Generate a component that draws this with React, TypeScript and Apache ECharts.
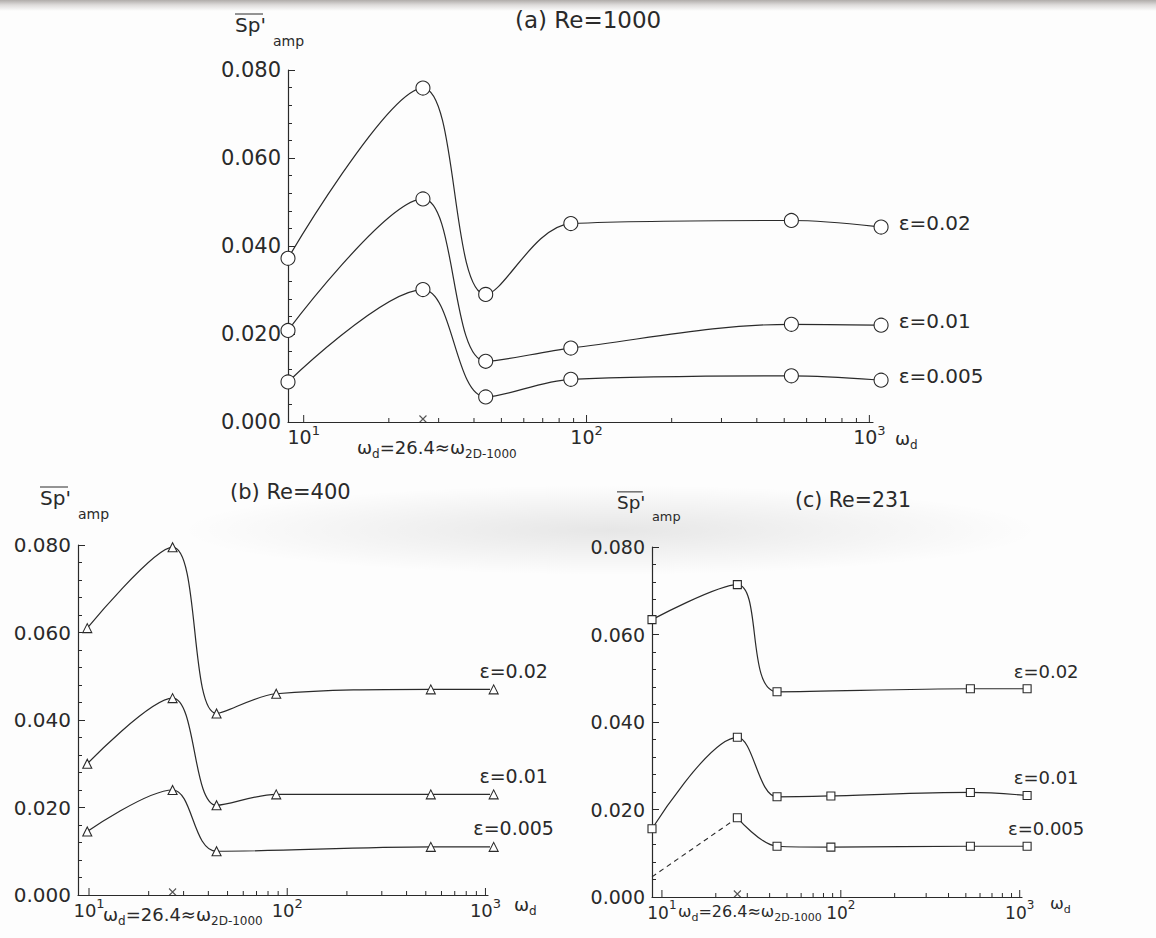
import React, { useEffect, useRef } from 'react';
import * as echarts from 'echarts';

// Forcing frequencies (ω_d) of the computed cases
const omegaA = [8.8, 26.4, 44, 88, 530, 1100];
const omegaB = [9.8, 26.4, 44, 88, 530, 1100];
const omegaC = [8.8, 26.4, 44, 88, 530, 1100];

// (a) Re=1000
const ampA_eps002 = [0.0372, 0.0759, 0.029, 0.0451, 0.0458, 0.0443];
const ampA_eps001 = [0.0208, 0.0507, 0.0138, 0.0168, 0.0222, 0.022];
const ampA_eps0005 = [0.0091, 0.0301, 0.0057, 0.0097, 0.0105, 0.0095];

// (b) Re=400
const ampB_eps002 = [0.061, 0.0795, 0.0415, 0.046, 0.047, 0.047];
const ampB_eps001 = [0.03, 0.045, 0.0205, 0.023, 0.023, 0.023];
const ampB_eps0005 = [0.0145, 0.024, 0.01, null, 0.011, 0.011];

// (c) Re=231
const ampC_eps002 = [0.0634, 0.0714, 0.0469, null, 0.0476, 0.0476];
const ampC_eps001 = [0.0156, 0.0365, 0.0229, 0.0231, 0.0239, 0.0232];
const ampC_eps0005 = [null, 0.0181, 0.0116, 0.0114, 0.0116, 0.0116];
// extrapolated branch of ε=0.005 towards low frequency (dashed)
const ampC_eps0005_extrapOmega = [8.8, 26.4];
const ampC_eps0005_extrapAmp = [0.0046, 0.0181];

const epsLabels = ['ε=0.02', 'ε=0.01', 'ε=0.005'];
const panelTitles = ['(a) Re=1000', '(b) Re=400', '(c) Re=231'];
const omega2D = 26.4;
const xMajorTicks = [10, 100, 1000];
const xMinorTicks = [20, 30, 40, 50, 60, 70, 80, 90, 200, 300, 400, 500, 600, 700, 800, 900];

const X_MIN = 8.8;
const X_MAX = 1030;
const Y_MAX = 0.08;
const Y_STEP = 0.02;

const INK = '#2a2a2a';
const FONT = '"DejaVu Sans", "Liberation Sans", sans-serif';

type Panel = {
  left: number;
  top: number;
  width: number;
  height: number;
  symbol: string;
  symbolSize: number;
  omega: number[];
  amps: (number | null)[][];
  label: any;
  fs: number; // font scale
};

const panels: Panel[] = [
  {
    left: 288, top: 70, width: 585, height: 352,
    symbol: 'circle', symbolSize: 14,
    omega: omegaA,
    amps: [ampA_eps002, ampA_eps001, ampA_eps0005],
    label: { position: 'right', distance: 10, offset: [0, -4] },
    fs: 1,
  },
  {
    left: 78, top: 545, width: 410, height: 350,
    symbol: 'triangle', symbolSize: 9,
    omega: omegaB,
    amps: [ampB_eps002, ampB_eps001, ampB_eps0005],
    label: { position: 'top', distance: 4, offset: [20, 0] },
    fs: 0.97,
  },
  {
    left: 652, top: 547, width: 370, height: 350,
    symbol: 'rect', symbolSize: 8,
    omega: omegaC,
    amps: [ampC_eps002, ampC_eps001, ampC_eps0005],
    label: { position: 'top', distance: 4, offset: [19, 0] },
    fs: 0.9,
  },
];

function pairs(xs: number[], ys: (number | null)[]) {
  const out: number[][] = [];
  xs.forEach((x, i) => {
    const y = ys[i];
    if (y !== null && y !== undefined) out.push([x, y]);
  });
  return out;
}

function curveSeries(gi: number, p: Panel, k: number) {
  const pts = pairs(p.omega, p.amps[k]);
  const data = pts.map((pt, i) =>
    i === pts.length - 1
      ? {
          value: pt,
          label: {
            show: true,
            formatter: epsLabels[k],
            fontSize: Math.round(20 * p.fs),
            fontFamily: FONT,
            color: INK,
            ...p.label,
          },
        }
      : { value: pt }
  );
  return {
    type: 'line',
    xAxisIndex: gi,
    yAxisIndex: gi,
    data,
    smooth: 0.35,
    symbol: p.symbol,
    symbolSize: p.symbolSize,
    showAllSymbol: true,
    clip: false,
    silent: true,
    lineStyle: { color: INK, width: 1.2 },
    itemStyle: { color: '#ffffff', borderColor: INK, borderWidth: 1.1 },
    emphasis: { disabled: true },
    z: 3,
  };
}

function tickSeries(gi: number) {
  const data = [
    ...xMajorTicks.map((v) => [v, 0, 7]),
    ...xMinorTicks.map((v) => [v, 0, 4]),
  ];
  return {
    type: 'custom',
    xAxisIndex: gi,
    yAxisIndex: gi,
    data,
    silent: true,
    clip: false,
    z: 4,
    renderItem: (_params: any, api: any) => {
      const c = api.coord([api.value(0), 0]);
      const len = api.value(2);
      return {
        type: 'line',
        shape: { x1: c[0], y1: c[1], x2: c[0], y2: c[1] - len },
        style: { stroke: INK, lineWidth: 1 },
      };
    },
  };
}

function crossMarkSeries(gi: number) {
  return {
    type: 'scatter',
    xAxisIndex: gi,
    yAxisIndex: gi,
    data: [[omega2D, 0]],
    symbol: 'path://M0,0L10,10M10,0L0,10',
    symbolSize: 7,
    symbolOffset: [0, -3],
    silent: true,
    clip: false,
    itemStyle: { color: 'transparent', borderColor: INK, borderWidth: 1.1 },
    z: 5,
  };
}

function txt(x: number, y: number, text: string, size: number, extra: any = {}) {
  return {
    type: 'text',
    x,
    y,
    silent: true,
    style: {
      text,
      fontSize: size,
      fontFamily: FONT,
      fill: INK,
      align: 'left',
      verticalAlign: 'middle',
      ...extra,
    },
  };
}

function subRich(fs: number) {
  const m = Math.round(18 * fs * 2) / 2;
  const s = Math.round(12 * fs * 2) / 2;
  return {
    m: { fontSize: m, fontFamily: FONT, color: INK, lineHeight: m + 4, verticalAlign: 'top' },
    s: { fontSize: s, fontFamily: FONT, color: INK, lineHeight: s, padding: [s, 0, 0, 0], verticalAlign: 'bottom' },
  };
}

function richTxt(x: number, y: number, text: string, fs: number) {
  return {
    type: 'text',
    x,
    y,
    silent: true,
    style: {
      text,
      rich: subRich(fs),
      fontFamily: FONT,
      fill: INK,
      align: 'left',
      verticalAlign: 'middle',
    },
  };
}

function ampLabel(x: number, y: number, fs: number) {
  // S p ' with an overbar, and the "amp" subscript
  return [
    txt(x, y, "Sp'", 20 * fs),
    {
      type: 'line',
      silent: true,
      shape: { x1: x, y1: y - 11 * fs, x2: x + 28 * fs, y2: y - 11 * fs },
      style: { stroke: INK, lineWidth: 1 },
    },
    txt(x + 38 * fs, y + 16 * fs, 'amp', 14 * fs),
  ];
}

const annotation = '{m|ω}{s|d}{m|=26.4≈ω}{s|2D-1000}';
const axisName = '{m|ω}{s|d}';

function buildOption() {
  const series: any[] = [];
  panels.forEach((p, gi) => {
    for (let k = 0; k < 3; k++) series.push(curveSeries(gi, p, k));
    series.push(tickSeries(gi));
    series.push(crossMarkSeries(gi));
  });
  series.push({
    type: 'line',
    xAxisIndex: 2,
    yAxisIndex: 2,
    data: pairs(ampC_eps0005_extrapOmega, ampC_eps0005_extrapAmp),
    symbol: 'none',
    silent: true,
    lineStyle: { color: INK, width: 1.1, type: [5, 4] },
    z: 2,
  });

  return {
    animation: false,
    backgroundColor: 'transparent',
    tooltip: { show: false },
    grid: panels.map((p) => ({
      left: p.left,
      top: p.top,
      width: p.width,
      height: p.height,
      containLabel: false,
    })),
    xAxis: panels.map((p, i) => ({
      gridIndex: i,
      type: 'log',
      logBase: 10,
      min: X_MIN,
      max: X_MAX,
      axisLine: { show: true, lineStyle: { color: INK, width: 1.2 } },
      axisTick: { show: false },
      splitLine: { show: false },
      axisLabel: {
        margin: 2,
        formatter: (v: number) => {
          const e = Math.log10(v);
          if (Math.abs(e - Math.round(e)) > 1e-6) return '';
          return `{b|10}{s|${Math.round(e)}}`;
        },
        rich: {
          b: { fontSize: Math.round(19 * p.fs), fontFamily: FONT, color: INK, lineHeight: 22, verticalAlign: 'bottom' },
          s: { fontSize: Math.round(13 * p.fs), fontFamily: FONT, color: INK, lineHeight: 13, padding: [0, 0, 10, 0], verticalAlign: 'top' },
        },
      },
    })),
    yAxis: panels.map((p, i) => ({
      gridIndex: i,
      type: 'value',
      min: 0,
      max: Y_MAX,
      interval: Y_STEP,
      axisLine: { show: true, lineStyle: { color: INK, width: 1.2 } },
      axisTick: { show: true, inside: true, length: 7, lineStyle: { color: INK, width: 1 } },
      minorTick: { show: true, splitNumber: 5, length: 4, lineStyle: { color: INK, width: 1 } },
      splitLine: { show: false },
      axisLabel: {
        margin: 7,
        fontSize: Math.round(21 * p.fs),
        fontFamily: FONT,
        color: INK,
        formatter: (v: number) => v.toFixed(3),
      },
    })),
    series,
    graphic: [
      txt(515, 20, panelTitles[0], 23),
      txt(230, 492, panelTitles[1], 21),
      txt(795, 500, panelTitles[2], 20.5),
      ...ampLabel(235, 25, 1),
      ...ampLabel(40, 498, 1),
      ...ampLabel(617, 502, 0.92),
      richTxt(357, 449, annotation, 1),
      richTxt(103, 916, annotation, 1),
      richTxt(678, 913, annotation, 0.9),
      richTxt(895, 440, axisName, 1),
      richTxt(514, 906, axisName, 1),
      richTxt(1050, 905, axisName, 0.92),
    ],
  };
}

export default function App() {
  const ref = useRef<HTMLDivElement>(null);

  useEffect(() => {
    if (!ref.current) return;
    const chart = echarts.init(ref.current, undefined, { renderer: 'svg' });
    chart.setOption(buildOption() as any);
    return () => chart.dispose();
  }, []);

  return (
    <div
      style={{
        position: 'absolute',
        left: 0,
        top: 0,
        width: 1156,
        height: 938,
        background:
          'linear-gradient(to bottom, rgba(150,145,142,0.75) 0px, rgba(190,186,184,0.5) 5px, rgba(255,255,255,0) 11px),' +
          'radial-gradient(ellipse 430px 45px at 610px 530px, rgba(0,0,0,0.09), rgba(0,0,0,0)),' +
          '#fdfdfd',
      }}
    >
      <div ref={ref} style={{ width: 1156, height: 938 }} />
    </div>
  );
}
